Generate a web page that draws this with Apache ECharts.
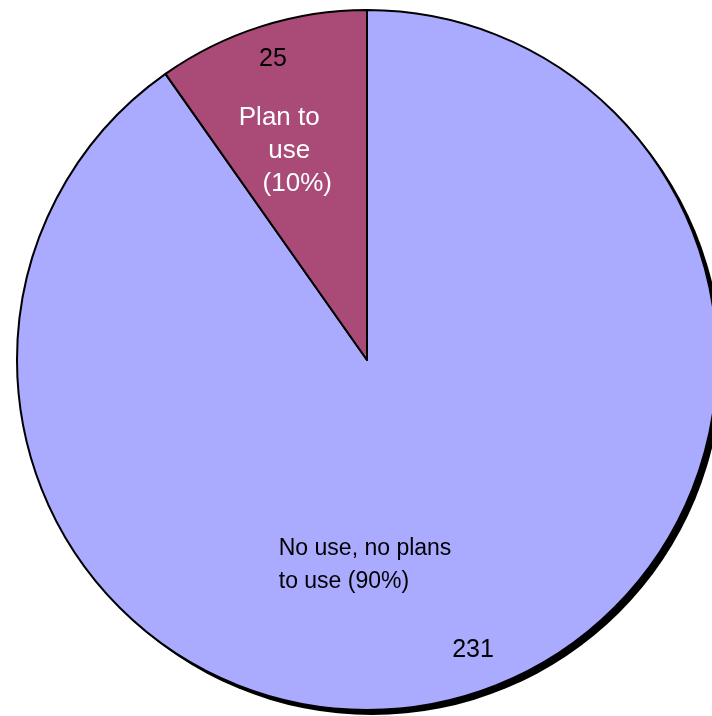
<!DOCTYPE html>
<html>
<head>
<meta charset="utf-8">
<script src="https://cdn.jsdelivr.net/npm/echarts@6/dist/echarts.min.js"></script>
<style>
  html, body { margin: 0; padding: 0; background: #ffffff; }
  #chart { width: 712px; height: 716px; }
</style>
</head>
<body>
<div id="chart"></div>
<script>
// Survey responses: use of the tool
const categories = ['No use, no plans to use', 'Plan to use'];
const counts = [231, 25];
const sliceColors = ['#AAAAFF', '#A94A77'];
const labelColors = ['#000000', '#ffffff'];

const total = counts.reduce((a, b) => a + b, 0);
const pct = counts.map(v => Math.round(v / total * 100));

// Category label text, wrapped as in the chart
const nameText = [
  categories[0].replace('no plans ', 'no plans\n') + ' (' + pct[0] + '%)',
  '{l1|Plan to}\n{l2|use}\n{l3|(' + pct[1] + '%)}'
];

const center = [367, 360];
const R = 350;
const font = 'Liberation Sans, Arial, sans-serif';

// per-line styles for the small slice's wrapped label
const lineStyle = (padLeft) => ({
  color: '#ffffff', fontFamily: font, fontSize: 26, lineHeight: 33,
  padding: [0, 0, 0, padLeft]
});

const mainData = categories.map((c, i) => ({
  name: c,
  value: counts[i],
  itemStyle: { color: sliceColors[i] },
  label: {
    formatter: nameText[i],
    color: labelColors[i],
    fontSize: i === 0 ? 23 : 26,
    lineHeight: 33,
    rich: i === 0 ? {} : { l1: lineStyle(0), l2: lineStyle(20), l3: lineStyle(36) }
  }
}));

const valueData = categories.map((c, i) => ({ name: c, value: counts[i] }));

const chart = echarts.init(document.getElementById('chart'), null, { renderer: 'canvas' });
chart.setOption({
  animation: false,
  backgroundColor: '#ffffff',
  series: [
    {
      // drop shadow disc
      type: 'pie',
      silent: true,
      z: 1,
      center: [center[0] + 5, center[1] + 5],
      radius: [0, R],
      startAngle: 90,
      label: { show: false },
      labelLine: { show: false },
      itemStyle: { color: '#000000' },
      data: [{ name: 'shadow', value: 1 }]
    },
    {
      type: 'pie',
      z: 2,
      center: center,
      radius: [0, R],
      startAngle: 90,
      clockwise: true,
      itemStyle: { borderColor: '#000000', borderWidth: 2 },
      label: {
        show: true,
        position: 'inside',
        fontFamily: font
      },
      labelLine: { show: false },
      labelLayout: function (p) {
        if (p.dataIndex === 0) return { dx: -142, dy: 35, align: 'left' };
        return { dx: -34, dy: -39 };
      },
      emphasis: { disabled: true },
      data: mainData
    },
    {
      // value labels near the rim
      type: 'pie',
      silent: true,
      z: 3,
      center: center,
      radius: [300, 310],
      startAngle: 90,
      itemStyle: { color: 'rgba(0,0,0,0)' },
      label: {
        show: true,
        position: 'inside',
        formatter: '{c}',
        color: '#000000',
        fontFamily: font,
        fontSize: 25
      },
      labelLine: { show: false },
      labelLayout: function (p) {
        if (p.dataIndex === 0) return { dx: 13, dy: -4 };
        return { dx: -1, dy: -7 };
      },
      emphasis: { disabled: true },
      data: valueData
    }
  ]
});
</script>
</body>
</html>
